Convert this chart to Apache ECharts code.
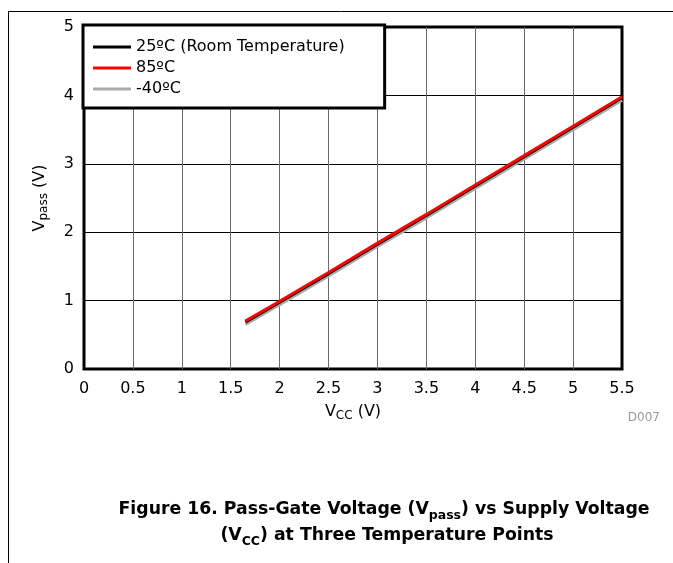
<!DOCTYPE html>
<html>
<head>
<meta charset="utf-8">
<script src="https://cdn.jsdelivr.net/npm/echarts@6/dist/echarts.min.js"></script>
<style>
  html, body { margin: 0; padding: 0; background: #fff; }
  #chart { width: 673px; height: 563px; }
</style>
</head>
<body>
<div id="chart"></div>
<script>
// ---- data ----
const vcc = [1.65, 2, 2.5, 3, 3.5, 4, 4.5, 5, 5.5];
const vpass25 = [0.685, 0.975, 1.395, 1.825, 2.245, 2.675, 3.105, 3.535, 3.965];
const vpass85 = [0.70, 0.99, 1.41, 1.84, 2.26, 2.69, 3.12, 3.55, 3.98];
const vpassM40 = [0.65, 0.94, 1.36, 1.79, 2.21, 2.64, 3.07, 3.50, 3.93];
const seriesNames = ['25ºC (Room Temperature)', '85ºC', '-40ºC'];
const xTickLabels = ['0', '0.5', '1', '1.5', '2', '2.5', '3', '3.5', '4', '4.5', '5', '5.5'];
const yTickLabels = ['0', '1', '2', '3', '4', '5'];

const FONT = 'DejaVu Sans, Arial, sans-serif';
const pairs = (xs, ys) => xs.map((x, i) => [x, ys[i]]);

const chart = echarts.init(document.getElementById('chart'), null, { renderer: 'canvas' });

const capRich = {
  b: { fontFamily: FONT, fontSize: 17.3, fontWeight: 'bold', fill: '#000', verticalAlign: 'top', lineHeight: 21 },
  s: { fontFamily: FONT, fontSize: 12.5, fontWeight: 'bold', fill: '#000', verticalAlign: 'bottom', lineHeight: 13, padding: [11, 0, 0, 0] }
};

chart.setOption({
  animation: false,
  backgroundColor: '#fff',
  textStyle: { fontFamily: FONT },
  grid: {
    left: 84, top: 27, width: 538, height: 342,
    show: true, borderColor: '#000', borderWidth: 3, backgroundColor: 'transparent'
  },
  legend: {
    data: seriesNames,
    orient: 'vertical',
    left: 83, top: 25,
    padding: [14, 40, 11, 10],
    itemGap: 5,
    itemWidth: 38, itemHeight: 3,
    itemTextGap: 10,
    icon: 'rect',
    backgroundColor: '#fff',
    borderColor: '#000',
    borderWidth: 3,
    borderRadius: 0,
    z: 10,
    textStyle: { fontFamily: FONT, fontSize: 16, color: '#000' }
  },
  xAxis: {
    type: 'value', min: 0, max: 5.5, interval: 0.5,
    name: '{v|V}{s|CC}{v| (V)}',
    nameLocation: 'middle', nameGap: 30,
    nameTextStyle: {
      rich: {
        v: { fontFamily: FONT, fontSize: 16, color: '#000', verticalAlign: 'top', lineHeight: 18 },
        s: { fontFamily: FONT, fontSize: 12, color: '#000', verticalAlign: 'bottom', lineHeight: 12, padding: [8, 0, 0, 0] }
      }
    },
    axisLine: { show: false },
    axisTick: { show: false },
    axisLabel: {
      margin: 12, color: '#000', fontFamily: FONT, fontSize: 16,
      formatter: v => xTickLabels[Math.round(v / 0.5)]
    },
    splitLine: { show: true, showMinLine: false, showMaxLine: false, lineStyle: { color: '#6a6a6a', width: 1 } }
  },
  yAxis: {
    type: 'value', min: 0, max: 5, interval: 1,
    name: '{v|V}{s|pass}{v| (V)}',
    nameLocation: 'middle', nameGap: 34, nameRotate: 90,
    nameTextStyle: {
      rich: {
        v: { fontFamily: FONT, fontSize: 16, color: '#000', verticalAlign: 'top', lineHeight: 18 },
        s: { fontFamily: FONT, fontSize: 12, color: '#000', verticalAlign: 'bottom', lineHeight: 12, padding: [9, 0, 0, 0] }
      }
    },
    axisLine: { show: false },
    axisTick: { show: false },
    axisLabel: {
      margin: 10, color: '#000', fontFamily: FONT, fontSize: 16,
      formatter: v => yTickLabels[Math.round(v)]
    },
    splitLine: { show: true, showMinLine: false, showMaxLine: false, lineStyle: { color: '#000', width: 1 } }
  },
  series: [
    {
      name: seriesNames[2], type: 'line', data: pairs(vcc, vpassM40),
      showSymbol: false, symbol: 'none', z: 2,
      lineStyle: { color: '#aaaaaa', width: 3 }, itemStyle: { color: '#aaaaaa' }
    },
    {
      name: seriesNames[0], type: 'line', data: pairs(vcc, vpass25),
      showSymbol: false, symbol: 'none', z: 3,
      lineStyle: { color: '#000', width: 3 }, itemStyle: { color: '#000' }
    },
    {
      name: seriesNames[1], type: 'line', data: pairs(vcc, vpass85),
      showSymbol: false, symbol: 'none', z: 4,
      lineStyle: { color: '#ff0000', width: 3 }, itemStyle: { color: '#ff0000' }
    }
  ],
  graphic: [
    { type: 'line', shape: { x1: 8, y1: 11.5, x2: 673, y2: 11.5 }, style: { stroke: '#000', lineWidth: 1 } },
    { type: 'line', shape: { x1: 8.5, y1: 11, x2: 8.5, y2: 563 }, style: { stroke: '#000', lineWidth: 1 } },
    {
      type: 'text', x: 660, y: 418,
      style: { text: 'D007', fill: '#999', font: '12px ' + FONT, align: 'right', verticalAlign: 'middle' }
    },
    {
      type: 'text', x: 384, y: 512,
      style: {
        text: '{b|Figure 16. Pass-Gate Voltage (V}{s|pass}{b|) vs Supply Voltage}',
        align: 'center', verticalAlign: 'middle', rich: capRich
      }
    },
    {
      type: 'text', x: 387, y: 538,
      style: {
        text: '{b|(V}{s|CC}{b|) at Three Temperature Points}',
        align: 'center', verticalAlign: 'middle', rich: capRich
      }
    }
  ]
});
</script>
</body>
</html>
